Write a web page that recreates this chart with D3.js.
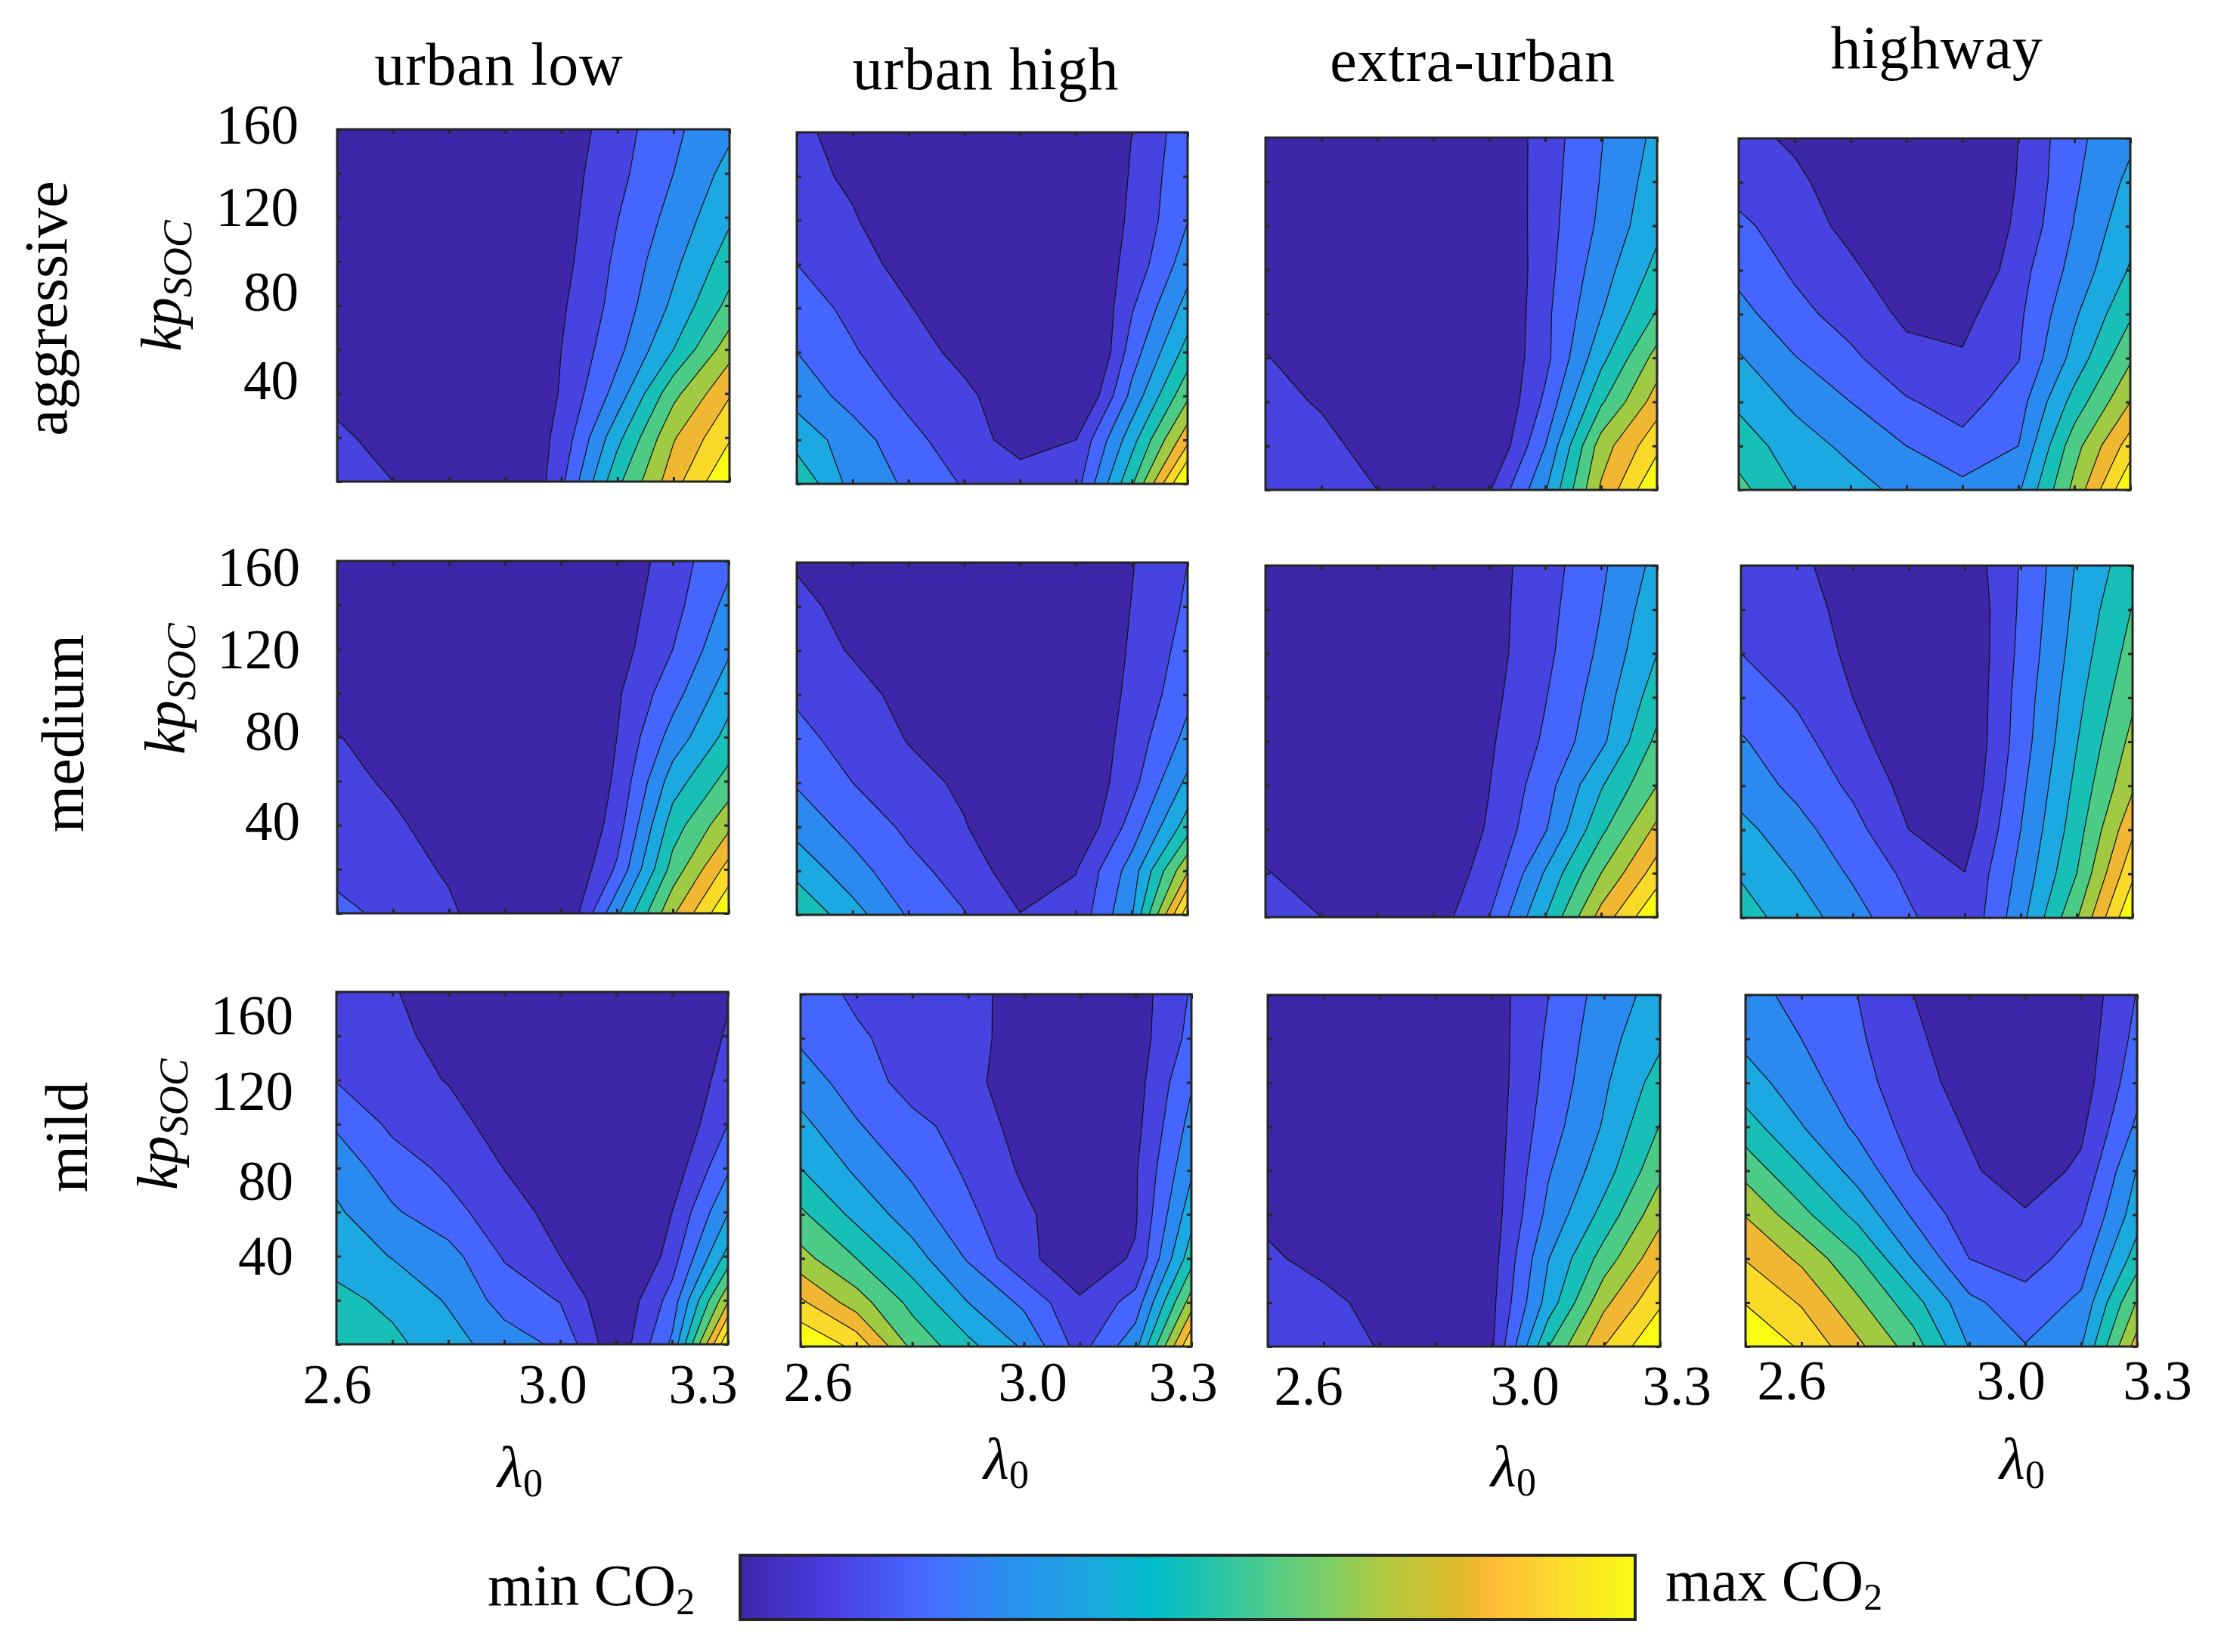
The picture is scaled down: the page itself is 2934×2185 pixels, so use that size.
<!DOCTYPE html>
<html>
<head>
<meta charset="utf-8">
<script src="https://cdnjs.cloudflare.com/ajax/libs/d3/7.8.5/d3.min.js"></script>
<style>
  html, body { margin: 0; padding: 0; background: #fff; }
  text { font-family: "Liberation Serif", serif; fill: #000; }
</style>
</head>
<body>
<div id="chart"></div>
<script>
// grid of the runs, z rows go from kp 160 down to kp 0, columns from lambda 2.6 to 3.3
let lambdas = [2.6, 2.7, 2.8, 2.9, 3.0, 3.1, 3.2, 3.3]
let kps = [160, 140, 120, 100, 80, 60, 40, 20, 0]
let cycles = ['urban low', 'urban high', 'extra-urban', 'highway']
let styles = ['aggressive', 'medium', 'mild']
let xLabels = ['2.6', '3.0', '3.3']
let yLabels = ['160', '120', '80', '40']
let levels = [1, 2, 3, 4, 5, 6, 7, 8, 9, 10]
let bandColors = ['#3d26a8', '#4743e0', '#4465fe', '#2b8af0', '#1ca8e0', '#17bfb7', '#4ccb87', '#a0ca42', '#f0b732', '#fada29', '#f9fb14']
let barStops = [0, 0.1, 0.2, 0.3, 0.4, 0.46, 0.55, 0.65, 0.72, 0.8, 0.84, 0.9, 1]
let barColors = ['#3e26a8', '#4a3de0', '#4868ff', '#2a90ef', '#1ba9dc', '#00bbc9', '#34c89e', '#78cf6a', '#b0c93e', '#dcba2c', '#feba38', '#fbd52f', '#f9fb15']

//#region data, CO2 in units of the contour level
let aggressiveUrbanLow = [
    [.3, .3, .3, .3, .35, 1.55, 2.8, 3.8],
    [.3, .3, .3, .3, .5, 1.72, 3.0, 4.35],
    [.3, .3, .3, .3, .55, 1.97, 3.35, 4.85],
    [.3, .3, .3, .3, .65, 2.2, 3.75, 5.5],
    [.3, .3, .3, .3, .85, 2.36, 4.2, 6.3],
    [.4, .3, .3, .3, 1.0, 2.7, 5.0, 7.6],
    [.7, .3, .2, .2, 1.05, 3.4, 6.7, 8.9],
    [1.2, .6, .1, -.2, 1.3, 4.7, 7.9, 9.9],
    [1.65, 1.0, .1, -1, 1.76, 5.76, 8.6, 11]
]
let aggressiveUrbanHigh = [
    [1.2, .65, .3, .3, .3, .3, 1.0, 2.6],
    [1.3, .85, .3, .3, .3, .3, 1.05, 2.8],
    [1.65, 1.08, .4, .3, .3, .2, 1.12, 2.97],
    [2.0, 1.35, .7, .3, .3, 0, 1.3, 3.55],
    [2.5, 1.75, 1.05, .4, .2, -.9, 1.9, 4.4],
    [3.0, 2.1, 1.3, .8, .2, -1.5, 2.5, 5.4],
    [3.65, 2.6, 1.75, 1.15, .55, -.6, 3.3, 6.8],
    [4.6, 3.5, 2.3, 1.45, .6, 1.0, 4.6, 8.7],
    [5.9, 3.62, 2.85, 1.9, 1.5, 1.6, 5.85, 11.5]
]
let aggressiveExtraUrban = [
    [.3, .3, .3, .3, -.07, 1.48, 2.95, 4.25],
    [.3, .3, .3, .3, -.2, 1.55, 3.05, 4.5],
    [.3, .3, .3, .3, -.3, 1.6, 3.2, 4.75],
    [.3, .3, .3, .3, -.45, 1.65, 3.55, 5.3],
    [.6, .3, .3, .3, -.45, 1.75, 3.95, 6.1],
    [1.05, .5, .3, .3, -.2, 1.7, 4.7, 7.4],
    [1.35, .9, .4, .2, -.4, 2.2, 5.85, 8.5],
    [1.55, 1.3, .6, .2, -.2, 3.0, 7.5, 9.75],
    [1.8, 1.5, 1.0, .2, .9, 3.9, 8.15, 11]
]
let aggressiveHighway = [
    [1.3, .85, .3, .3, .1, 1.0, 2.75, 3.8],
    [1.65, 1.2, .5, .3, 0, 1.05, 2.85, 4.25],
    [2.2, 1.55, .7, .3, -.1, 1.2, 3.05, 4.65],
    [2.7, 1.85, 1.2, .3, -.15, 1.6, 3.35, 5.1],
    [3.35, 2.3, 1.6, .8, .7, 1.8, 3.85, 5.85],
    [4.1, 3.05, 2.2, 1.3, 1.1, 1.95, 4.35, 6.85],
    [4.8, 3.8, 3.0, 2.1, 1.6, 2.55, 5.4, 8],
    [5.55, 4.5, 3.75, 3.0, 2.3, 3.0, 6.6, 9.5],
    [6.3, 5.0, 4.4, 3.7, 3.3, 3.85, 7.3, 11]
]
let mediumUrbanLow = [
    [.3, .3, .3, .3, .3, .15, 1.55, 2.75],
    [.3, .3, .3, .3, .3, .45, 1.65, 3.3],
    [.3, .3, .3, .3, .3, .55, 2.0, 3.85],
    [.3, .3, .3, .3, .3, .85, 2.6, 4.6],
    [1.05, .5, .3, .3, .3, 1.0, 3.4, 5.35],
    [1.3, .85, .3, .3, -.3, 1.15, 4.5, 6.4],
    [1.55, 1.15, .6, .3, -.6, 1.5, 5.5, 7.75],
    [1.8, 1.5, .85, .3, -.4, 2.15, 6.4, 9.4],
    [2.2, 1.8, 1.2, .1, -.3, 3.8, 7.85, 11]
]
let mediumUrbanHigh = [
    [.9, .3, .3, .3, .3, .4, .95, 2.0],
    [1.25, .7, .3, .3, .3, .3, 1.02, 2.15],
    [1.6, .9, .3, .3, .3, .4, 1.07, 2.4],
    [1.85, 1.4, .65, .3, .3, .5, 1.12, 2.75],
    [2.3, 1.6, .95, .4, .3, .1, 1.39, 3.3],
    [2.9, 2.0, 1.3, .85, .3, 0, 1.66, 4.25],
    [3.65, 2.65, 1.8, 1.05, .3, 0, 2.4, 5.5],
    [4.7, 3.4, 2.3, 1.6, .4, .97, 3.45, 7.9],
    [5.9, 4.4, 2.9, 2.05, 1.03, 1.3, 3.9, 10.7]
]
let mediumExtraUrban = [
    [.3, .3, .3, .3, .6, 1.55, 2.82, 4.3],
    [.3, .3, .3, .3, .6, 1.65, 3.0, 4.65],
    [.3, .3, .3, .3, .6, 1.75, 3.2, 5.0],
    [.3, .3, .3, .3, .7, 1.95, 3.48, 5.55],
    [.3, .3, .3, .3, .85, 2.15, 3.75, 6.25],
    [.4, .3, .3, .3, .98, 2.55, 4.9, 7],
    [.6, .4, .3, .1, 1.1, 2.9, 5.75, 8.25],
    [1.05, .6, .4, .44, 1.3, 4.1, 7, 9.5],
    [1.55, 1.0, .4, .44, 2, 5, 8.4, 11]
]
let mediumHighway = [
    [1.5, 1.15, .65, .3, .3, 2.07, 4.08, 5.6],
    [1.7, 1.25, .8, .3, .05, 2.15, 4.25, 6.05],
    [2.0, 1.3, .9, .3, 0, 2.25, 4.45, 6.4],
    [2.55, 1.85, 1.0, .5, 0, 2.4, 4.7, 6.8],
    [3.1, 2.35, 1.3, .4, 0, 2.5, 4.95, 7.3],
    [3.55, 2.75, 1.8, .66, .13, 2.75, 5.25, 7.85],
    [4.3, 3.35, 2.35, 1.0, .5, 3, 5.55, 8.8],
    [4.9, 3.95, 2.85, 1.75, 1.02, 3.3, 6, 9.8],
    [5.45, 4.5, 3.45, 2.17, 1.15, 3.65, 6.9, 11]
]
let mildUrbanLow = [
    [1.3, 1.05, .65, .3, .3, .3, .3, .9],
    [1.55, 1.15, .8, .3, .3, .3, .1, 1.1],
    [1.95, 1.4, .95, .3, .3, .3, -.05, 1.45],
    [2.85, 1.8, 1.4, .55, .3, .3, 0, 2.0],
    [3.65, 2.45, 1.8, .98, .3, .3, .39, 2.85],
    [4.15, 3.15, 2.3, 1.5, .6, .3, 1.0, 3.95],
    [4.6, 3.95, 3.4, 1.9, 1.0, -1, 1.5, 5.35],
    [5.3, 4.75, 3.9, 2.6, 1.95, 0, 2.4, 7.85],
    [5.9, 5.25, 4.4, 3.5, 2.8, .2, 3.2, 11]
]
let mildUrbanHigh = [
    [2.5, 1.83, 1.4, 1.1, .87, .5, .5, 2.1],
    [2.85, 2.15, 1.6, 1.15, .8, .5, .5, 2.3],
    [3.5, 2.55, 1.6, 1.05, .9, .5, .6, 2.9],
    [4.3, 3.1, 2.3, 1.6, .6, .5, .7, 3.35],
    [5.05, 3.85, 2.8, 1.85, .85, .4, .9, 3.85],
    [6.2, 4.7, 3.5, 2.2, 1.2, .3, .9, 4.6],
    [7.35, 6.0, 4.45, 2.9, 1.2, .5, 1.1, 5.6],
    [9.2, 7.5, 5.7, 4.0, 2.8, 1.1, 2.4, 7.5],
    [11, 9.75, 6.75, 5.3, 3.85, 1.6, 3.7, 10]
]
let mildExtraUrban = [
    [.4, .4, .4, .4, .52, 1.97, 3.45, 4.4],
    [.4, .4, .4, .4, .46, 2.15, 3.65, 4.8],
    [.4, .4, .4, .4, .44, 2.3, 3.85, 5.45],
    [.4, .4, .4, .4, .45, 2.55, 4.1, 6.05],
    [.5, .4, .4, .4, .46, 2.9, 4.55, 6.75],
    [.8, .4, .4, .4, .5, 3.25, 5.35, 7.7],
    [1.15, .7, .4, .4, .6, 3.95, 6.45, 8.75],
    [1.5, 1.25, .7, .4, .75, 4.4, 7.75, 9.85],
    [1.8, 1.45, .95, .4, .85, 5.95, 9, 11]
]
let mildHighway = [
    [3.4, 2.65, 2.0, 1.0, .4, .3, .3, 2.05],
    [3.75, 3.0, 2.15, 1.2, .4, .3, .4, 2.3],
    [4.45, 3.45, 2.35, 1.4, .6, .3, .5, 2.65],
    [5.45, 4.05, 2.8, 1.6, .9, .3, .8, 3.2],
    [6.65, 5.1, 3.6, 2.0, 1.15, .45, 1.2, 4.05],
    [7.95, 6.3, 4.7, 2.85, 1.4, 1.1, 1.85, 4.55],
    [8.95, 7.8, 6.1, 3.95, 2.0, 1.55, 2.5, 5.5],
    [9.95, 8.9, 7.2, 5.4, 3.25, 2.4, 3.2, 7.1],
    [11, 9.85, 8.25, 6.5, 3.95, 3.05, 3.95, 8.5]
]
//#endregion

let grids = [
    [aggressiveUrbanLow, aggressiveUrbanHigh, aggressiveExtraUrban, aggressiveHighway],
    [mediumUrbanLow, mediumUrbanHigh, mediumExtraUrban, mediumHighway],
    [mildUrbanLow, mildUrbanHigh, mildExtraUrban, mildHighway]
]

// layout, the panels of the figure are not on a regular grid
let w = 2934, h = 2185
let frames = [
    [[446, 171, 965, 637], [1054, 175, 1571, 640], [1674, 182, 2192, 648], [2300, 183, 2818, 648]],
    [[446, 742, 964, 1208], [1054, 744, 1571, 1210], [1674, 748, 2192, 1213], [2303, 748, 2821, 1214]],
    [[445, 1312, 963, 1778], [1059, 1315, 1576, 1781], [1677, 1316, 2196, 1781], [2309, 1316, 2827, 1781]]
]
let titlePos = [[660, 112], [1304, 118], [1948, 107], [2562, 90]]
let stylePos = [[88, 408], [110, 970], [115, 1504]]
let kpPos = [[239, 378], [244, 911], [234, 1487]]
let yLabelPos = [
    { right: 395, ys: [190, 299, 411, 528] },
    { right: 397, ys: [775, 884, 992, 1111] },
    { right: 388, ys: [1368, 1468, 1587, 1686] }
]
let xLabelPos = [
    { xs: [446, 731, 930], y: 1856 },
    { xs: [1082, 1366, 1565], y: 1853 },
    { xs: [1731, 2017, 2218], y: 1858 },
    { xs: [2370, 2660, 2854], y: 1851 }
]
let lambdaPos = [[688, 1967], [1331, 1956], [2002, 1966], [2675, 1956]]

let svg = d3.select('#chart')
    .append('svg')
    .attr('width', w)
    .attr('height', h)
    .attr('viewBox', `0 0 ${w} ${h}`)

let contours = d3.contours()
    .size([lambdas.length, kps.length])
    .thresholds(levels)

// d3.contours puts grid point i at coordinate i + 0.5
let colToLambda = d3.scaleLinear().domain([0.5, lambdas.length - 0.5]).range(d3.extent(lambdas))
let rowToKp = d3.scaleLinear().domain([0.5, kps.length - 0.5]).range([d3.max(kps), d3.min(kps)])

grids.forEach((row, r) => row.forEach((z, c) => {
    let [x0, y0, x1, y1] = frames[r][c]
    let xScale = d3.scaleLinear().domain(d3.extent(lambdas)).range([x0, x1])
    let yScale = d3.scaleLinear().domain(d3.extent(kps)).range([y1, y0])
    let path = d3.geoPath(d3.geoTransform({
        point(x, y) {
            this.stream.point(xScale(colToLambda(x)), yScale(rowToKp(y)))
        }
    }))
    let clipId = `clip-${r}-${c}`
    svg.append('clipPath')
        .attr('id', clipId)
        .append('rect')
        .attr('x', x0)
        .attr('y', y0)
        .attr('width', x1 - x0)
        .attr('height', y1 - y0)

    let g = svg.append('g').attr('clip-path', `url(#${clipId})`)
    g.append('rect')
        .attr('x', x0)
        .attr('y', y0)
        .attr('width', x1 - x0)
        .attr('height', y1 - y0)
        .attr('fill', bandColors[0])
    g.selectAll('path')
        .data(contours(z.flat()))
        .enter()
        .append('path')
        .attr('d', path)
        .attr('fill', d => bandColors[levels.indexOf(d.value) + 1])
        .attr('stroke', '#111')
        .attr('stroke-width', 1.2)

    // ticks point inwards on all four sides
    let axes = [
        [d3.axisBottom(xScale).tickValues(lambdas), `translate(0,${y1})`],
        [d3.axisTop(xScale).tickValues(lambdas), `translate(0,${y0})`],
        [d3.axisLeft(yScale).tickValues(kps), `translate(${x0},0)`],
        [d3.axisRight(yScale).tickValues(kps), `translate(${x1},0)`]
    ]
    axes.forEach(([axis, t]) => {
        let a = svg.append('g')
            .attr('transform', t)
            .call(axis.tickSize(-6).tickFormat(''))
        a.select('.domain').remove()
        a.selectAll('line').attr('stroke', '#262626').attr('stroke-width', 3)
    })
    svg.append('rect')
        .attr('x', x0)
        .attr('y', y0)
        .attr('width', x1 - x0)
        .attr('height', y1 - y0)
        .attr('fill', 'none')
        .attr('stroke', '#262626')
        .attr('stroke-width', 3)
}))

//#region text
svg.selectAll('.title')
    .data(cycles)
    .enter()
    .append('text')
    .attr('class', 'title')
    .text(d => d)
    .attr('x', (d, i) => titlePos[i][0])
    .attr('y', (d, i) => titlePos[i][1])
    .attr('text-anchor', 'middle')
    .attr('font-size', 80)
    .attr('letter-spacing', 0.8)

svg.selectAll('.style')
    .data(styles)
    .enter()
    .append('text')
    .attr('class', 'style')
    .text(d => d)
    .attr('transform', (d, i) => `translate(${stylePos[i][0]},${stylePos[i][1]}) rotate(-90)`)
    .attr('text-anchor', 'middle')
    .attr('font-size', 80)

kpPos.forEach(([x, y]) => {
    let t = svg.append('text')
        .attr('transform', `translate(${x},${y}) rotate(-90)`)
        .attr('text-anchor', 'middle')
        .attr('font-style', 'italic')
        .attr('font-size', 76)
    t.append('tspan').text('kp')
    t.append('tspan').text('SOC').attr('font-size', 54).attr('dy', 14)
})

yLabelPos.forEach(p => {
    yLabels.forEach((label, i) => {
        svg.append('text')
            .text(label)
            .attr('x', p.right)
            .attr('y', p.ys[i])
            .attr('text-anchor', 'end')
            .attr('font-size', 73)
    })
})

xLabelPos.forEach(p => {
    xLabels.forEach((label, i) => {
        svg.append('text')
            .text(label)
            .attr('x', p.xs[i])
            .attr('y', p.y)
            .attr('text-anchor', 'middle')
            .attr('font-size', 73)
    })
})

lambdaPos.forEach(([x, y]) => {
    let t = svg.append('text')
        .attr('x', x)
        .attr('y', y)
        .attr('text-anchor', 'middle')
        .attr('font-size', 78)
    t.append('tspan').text('λ').attr('font-style', 'italic')
    t.append('tspan').text('0').attr('font-size', 52).attr('dy', 12)
})
//#endregion

//#region colorbar
let barX = [979, 2163], barY = [2057, 2142]
let barScale = d3.scaleLinear().domain([0, 1]).range(barX)
let barColor = d3.scaleLinear().domain(barStops).range(barColors)
let barSteps = d3.range(0, 1, 1 / (barX[1] - barX[0]))

svg.append('g')
    .selectAll('rect')
    .data(barSteps)
    .enter()
    .append('rect')
    .attr('x', d => barScale(d))
    .attr('y', barY[0])
    .attr('width', 1.5)
    .attr('height', barY[1] - barY[0])
    .attr('fill', d => barColor(d))

svg.append('rect')
    .attr('x', barX[0])
    .attr('y', barY[0])
    .attr('width', barX[1] - barX[0])
    .attr('height', barY[1] - barY[0])
    .attr('fill', 'none')
    .attr('stroke', '#262626')
    .attr('stroke-width', 4)

let co2 = (label, x, y) => {
    let t = svg.append('text')
        .attr('x', x)
        .attr('y', y)
        .attr('font-size', 78)
    t.append('tspan').text(label + ' CO')
    t.append('tspan').text('2').attr('font-size', 50).attr('dy', 12)
}
co2('min', 645, 2123)
co2('max', 2203, 2117)
//#endregion
</script>
</body>
</html>
